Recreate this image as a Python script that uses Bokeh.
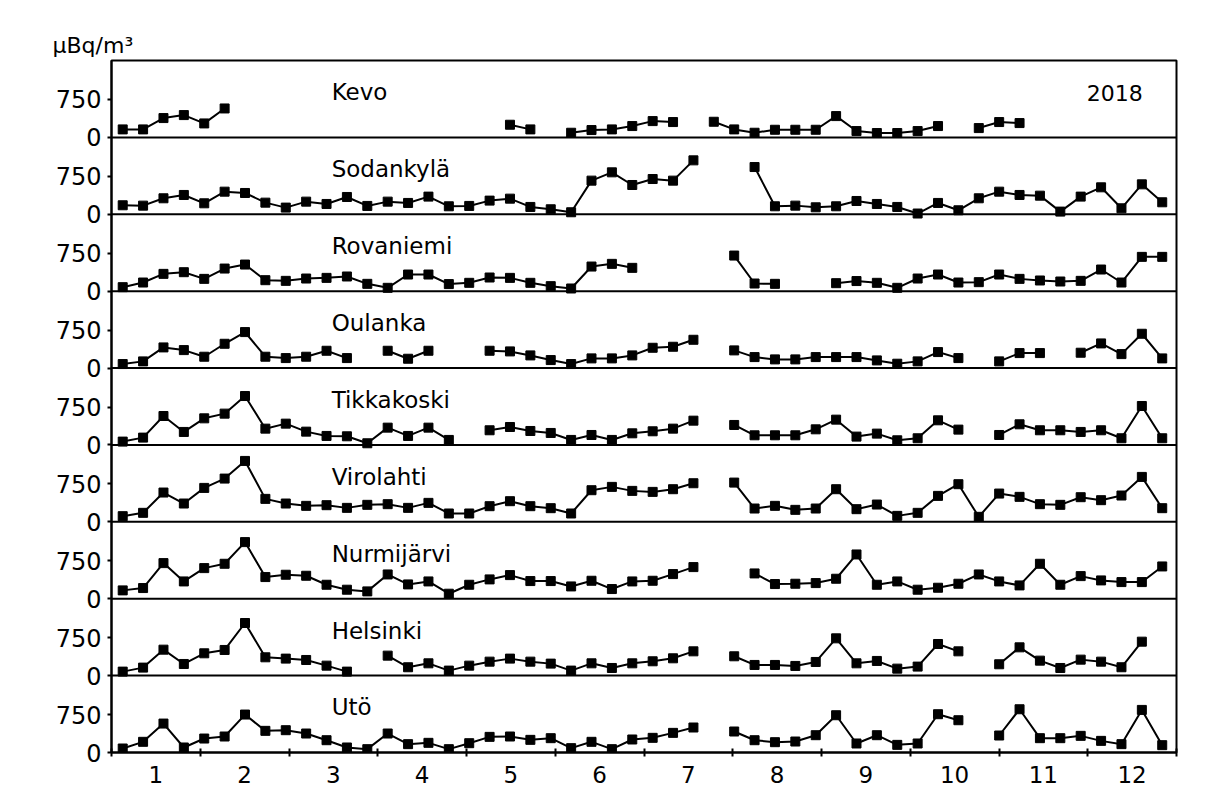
import numpy as np
from bokeh.plotting import figure
from bokeh.models import Range1d, FixedTicker, Span, Label, ColumnDataSource, CustomJSTickFormatter
from bokeh.embed import file_html
from bokeh.resources import INLINE

N = None
weeks = list(range(1, 53))
months = [str(m) for m in range(1, 13)]
unit_label = "μBq/m³"
year_label = "2018"
stations = ["Kevo", "Sodankylä", "Rovaniemi", "Oulanka", "Tikkakoski",
            "Virolahti", "Nurmijärvi", "Helsinki", "Utö"]

kevo = [158, 158, 382, 441, 276, 572, N, N, N, N, N, N, N, N, N, N, N, N, N,
        250, 158, N, 92, 145, 158, 224, 322, 303, N, 309, 158, 92, 151, 151, 151,
        421, 125, 86, 86, 125, 224, N, 184, 303, 283, N, N, N, N, N, N, N]
sodankyla = [178, 171, 316, 382, 217, 447, 421, 230, 132, 250, 204, 342, 165, 250, 224, 349,
             158, 165, 270, 309, 145, 99, 40, 665, 829, 579, 697, 665, 1066, N, N, 934,
             158, 171, 138, 158, 263, 204, 145, 15, 224, 79, 316, 447, 382, 368, 53, 349,
             533, 118, 592, 237]
rovaniemi = [79, 171, 342, 375, 243, 447, 526, 217, 204, 250, 263, 290, 145, 66, 329, 329,
             140, 165, 270, 263, 165, 99, 53, 487, 540, 461, N, N, N, N, 704, 151, 145, N, N,
             158, 200, 165, 66, 250, 329, 171, 178, 329, 243, 211, 191, 204, 428, 171, 678, 678]
oulanka = [79, 132, 408, 355, 224, 480, 711, 224, 197, 224, 342, 197, N, 342, 184, 342, N, N,
           342, 329, 250, 158, 79, 191, 191, 250, 401, 421, 559, N, 349, 217, 171, 171, 217,
           217, 217, 151, 86, 132, 316, 197, N, 132, 296, 296, N, 303, 487, 276, 678, 191]
tikkakoski = [66, 145, 572, 257, 526, 619, 967, 322, 421, 263, 178, 171, 33, 342, 178, 342, 99,
              N, 290, 355, 276, 237, 99, 197, 99, 230, 270, 322, 480, N, 395, 191, 191, 191,
              309, 500, 165, 224, 92, 132, 487, 303, N, 197, 408, 290, 290, 257, 290, 132, 770, 132]
virolahti = [112, 178, 579, 362, 671, 855, 1204, 454, 362, 316, 329, 276, 336, 349, 276, 375,
             165, 165, 309, 408, 309, 270, 165, 625, 691, 612, 592, 645, 763, N, 776, 263, 316,
             237, 263, 645, 250, 342, 118, 178, 513, 744, 99, 559, 494, 349, 336, 487, 428, 520,
             888, 270]
nurmijarvi = [165, 211, 704, 342, 605, 691, 1119, 428, 474, 454, 276, 178, 145, 480, 283, 342,
              99, 276, 382, 467, 349, 349, 243, 355, 191, 342, 355, 487, 625, N, N, 500, 290,
              296, 309, 395, 875, 276, 342, 178, 217, 296, 480, 342, 263, 691, 276, 447, 362,
              329, 329, 638]
helsinki = [79, 158, 513, 230, 441, 507, 1040, 362, 336, 309, 197, 79, N, 395, 165, 243, 99,
            197, 276, 336, 276, 237, 99, 243, 151, 243, 283, 342, 480, N, 382, 211, 211, 191,
            270, 737, 243, 290, 138, 178, 625, 480, N, 224, 559, 296, 151, 316, 276, 165, 671, N]
uto = [79, 211, 572, 99, 276, 316, 750, 428, 441, 375, 243, 99, 66, 375, 165, 191, 66, 184,
       309, 316, 250, 283, 86, 211, 66, 257, 290, 388, 494, N, 415, 243, 204, 217, 342, 737,
       178, 342, 151, 178, 757, 638, N, 336, 855, 283, 283, 329, 230, 165, 842, 145]

series = [kevo, sodankyla, rovaniemi, oulanka, tikkakoski, virolahti, nurmijarvi, helsinki, uto]
y_ticks_panel = [0, 750]

PANEL = 1520
NP = len(stations)
X0, X1 = 0.45, 52.7
FONT = "DejaVu Sans"

p = figure(frame_width=1065, frame_height=692,
           x_range=Range1d(X0, X1), y_range=Range1d(0, NP * PANEL),
           output_backend="svg", toolbar_location=None,
           min_border_left=111, min_border_right=30, min_border_top=60, min_border_bottom=36,
           background_fill_color="white", border_fill_color="white")

p.xgrid.visible = False
p.ygrid.visible = False
p.outline_line_color = "black"
p.outline_line_width = 2
p.outline_line_alpha = 1

# title as unit label
p.title.text = unit_label
p.title.align = "left"
p.title.offset = -59
p.title.text_font = FONT
p.title.text_font_size = "22px"
p.title.text_font_style = "normal"
p.title.text_color = "black"
p.title.standoff = 6

# per-panel ranges
for j in range(NP):
    k = NP - 1 - j  # j: panel index from bottom
    p.extra_y_ranges["r%d" % k] = Range1d(-j * PANEL, (NP - j) * PANEL)

for j in range(1, NP):
    p.add_layout(Span(location=j * PANEL, dimension="width", line_color="black", line_width=2))

for k, (name, vals) in enumerate(zip(stations, series)):
    y = np.array([np.nan if v is None else v for v in vals], dtype=float)
    src = ColumnDataSource(dict(x=weeks, y=y))
    rn = "r%d" % k
    p.line("x", "y", source=src, y_range_name=rn, line_color="black", line_width=2)
    p.scatter("x", "y", source=src, y_range_name=rn, marker="square", size=9,
              fill_color="black", line_color="black")
    p.add_layout(Label(x=11.25, y=890, text=name, y_range_name=rn, text_baseline="middle",
                       text_align="left", text_font=FONT, text_font_size="23px",
                       text_color="black"))

p.add_layout(Label(x=48.3, y=870, text=year_label, y_range_name="r0", text_baseline="middle",
                   text_align="left", text_font=FONT, text_font_size="22px", text_color="black"))

# y axis
yt = []
over = {}
for j in range(NP):
    for t in y_ticks_panel:
        yt.append(j * PANEL + t)
        over[j * PANEL + t] = str(t)
p.yaxis.ticker = FixedTicker(ticks=yt)
p.yaxis.major_label_overrides = over
p.yaxis.minor_tick_line_color = None
p.yaxis.major_tick_in = 0
p.yaxis.major_tick_out = 4
p.yaxis.major_tick_line_width = 2
p.yaxis.axis_line_width = 2
p.yaxis.major_label_standoff = 6
p.yaxis.major_label_text_font = FONT
p.yaxis.major_label_text_font_size = "24px"
p.yaxis.major_label_text_color = "black"

# x axis: month boundaries as minor ticks, month labels at centres
step = (X1 - X0) / 12
bounds = [X0 + i * step for i in range(13)]
centers = [X0 + (i + 0.5) * step for i in range(12)]
p.xaxis.ticker = FixedTicker(ticks=centers, minor_ticks=bounds)
p.xaxis.formatter = CustomJSTickFormatter(args=dict(labels=months),
                                          code="return labels[index];")
p.xaxis.major_tick_line_color = None
p.xaxis.major_tick_out = 4
p.xaxis.major_tick_in = 0
p.xaxis.minor_tick_in = 4
p.xaxis.minor_tick_out = 4
p.xaxis.minor_tick_line_width = 2
p.xaxis.minor_tick_line_color = "black"
p.xaxis.axis_line_width = 2
p.xaxis.major_label_standoff = 9
p.xaxis.major_label_text_font = FONT
p.xaxis.major_label_text_font_size = "23px"
p.xaxis.major_label_text_color = "black"

open("out.html", "w").write(file_html(p, INLINE))
